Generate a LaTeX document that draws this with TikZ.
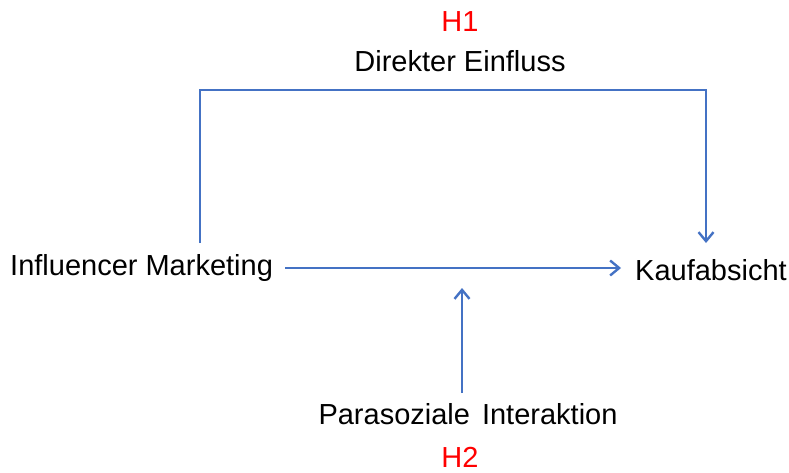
\documentclass[tikz,border=0pt]{standalone}
\usepackage{fontspec}
\setmainfont{Liberation Sans}
\usetikzlibrary{arrows.meta}
\definecolor{linkblue}{RGB}{68,114,196}
\definecolor{hypred}{RGB}{255,0,0}
\begin{document}
\begin{tikzpicture}[x=1pt,y=-1pt,
    every node/.style={font=\fontsize{29}{34}\selectfont,inner sep=0pt},
    link/.style={linkblue,line width=2.6pt,-{Straight Barb[length=9pt,width=15pt,line width=2.4pt]}},
    hyp/.style={text=hypred}]
    \useasboundingbox (0,0) rectangle (789,472);
    %% nodes
    \node[anchor=west] (im) at (10,268) {Influencer Marketing};
    \node[anchor=west] (ka) at (635,270) {Kaufabsicht};
    \node (pi) at (468,414) {Parasoziale\hspace{4pt} Interaktion};
    \node (de) at (460,61) {Direkter Einfluss};
    \node[hyp] (h1) at (460,22) {H1};
    \node[hyp] (h2) at (460,457) {H2};
    %% direct path
    \coordinate (dl) at (200,243);
    \coordinate (kt) at (706,243);
    \draw[link] (dl) -- (200,90) -| (kt);
    %% main path
    \draw[link,shorten <=12pt,shorten >=14pt] (im.east) -- (im.east -| ka.west);
    %% moderator
    \coordinate (mo) at (462,288);
    \draw[link] (pi.north -| mo) ++(0,-10) -- (mo);
\end{tikzpicture}
\end{document}
